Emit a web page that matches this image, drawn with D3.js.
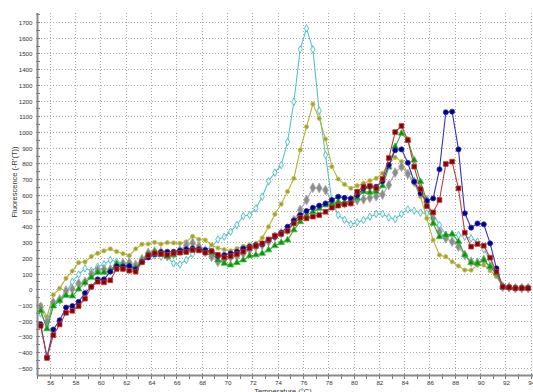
<!DOCTYPE html>
<html><head><meta charset="utf-8">
<script src="https://cdn.jsdelivr.net/npm/d3@7"></script>
<style>
html,body{margin:0;padding:0;background:#fff;}
svg{display:block;font-family:"Liberation Sans",Arial,sans-serif;}
</style></head>
<body>
<svg id="chart" width="533" height="392"></svg>
<script>
const temps = [55.25,55.75,56.25,56.75,57.25,57.75,58.25,58.75,59.25,59.75,60.25,60.75,61.25,61.75,62.25,62.75,63.25,63.75,64.25,64.75,
65.25,65.75,66.25,66.75,67.25,67.75,68.25,68.75,69.25,69.75,70.25,70.75,71.25,71.75,72.25,72.75,73.25,73.75,74.25,74.75,
75.25,75.75,76.25,76.75,77.25,77.75,78.25,78.75,79.25,79.75,80.25,80.75,81.25,81.75,82.25,82.75,83.25,83.75,84.25,84.75,
85.25,85.75,86.25,86.75,87.25,87.75,88.25,88.75,89.25,89.75,90.25,90.75,91.25,91.75,92.25,92.75,93.25,93.75];

const cyanSeries = [-150,-230,-77,-66,-20,51,97,136,121,147,162,189,179,166,162,151,189,226,217,210,
206,168,161,189,227,263,257,270,320,337,369,412,469,475,518,592,690,745,793,940,
1196,1529,1663,1529,1139,857,565,475,445,416,429,443,465,482,482,460,450,482,511,503,
490,486,480,412,350,350,348,337,327,306,257,189,104,19,15,10,10,10];

const oliveSeries = [-98,-172,-32,9,72,119,172,177,211,232,247,260,243,230,217,260,289,291,302,290,
300,298,295,305,340,320,316,285,265,255,248,262,276,285,295,330,400,480,545,625,
708,889,1037,1181,1090,959,783,704,670,645,662,677,694,709,740,800,842,815,740,677,
592,454,316,221,210,178,151,125,125,157,157,121,83,19,15,10,10,10];

const graySeries = [-110,-204,-83,-62,-6,4,40,51,100,126,130,130,153,168,172,157,194,235,243,240,
215,228,250,285,298,275,240,210,178,189,206,214,231,253,274,284,306,337,359,380,
443,507,571,649,647,634,560,555,550,560,570,575,585,595,605,666,745,783,736,687,
639,571,454,369,327,306,274,221,178,172,189,146,100,19,15,10,10,10];

const greenSeries = [-134,-249,-104,-70,-36,-40,4,45,79,111,111,121,166,157,155,140,183,226,240,225,
212,221,235,250,263,258,248,235,189,168,157,172,189,215,221,231,253,280,300,316,
380,433,475,496,518,539,549,556,554,571,585,624,620,624,660,780,910,995,952,825,
687,566,422,337,348,354,306,221,172,168,189,146,104,19,15,10,10,10];

const blueSeries = [-220,-428,-253,-194,-113,-104,-77,-21,19,66,66,115,149,147,151,130,177,205,225,240,
242,242,250,258,263,258,253,245,214,221,231,242,263,274,284,290,316,337,363,401,
440,475,501,522,535,549,571,592,585,581,602,645,655,655,690,793,887,893,808,687,
613,566,581,766,1129,1133,893,486,395,422,416,295,136,19,15,10,10,10];

const redSeries = [-230,-434,-289,-221,-147,-134,-104,-57,19,51,47,60,132,132,121,115,175,220,232,228,
222,232,236,240,253,250,236,245,222,206,214,227,242,265,278,295,320,344,355,375,
422,458,454,465,475,496,522,535,543,549,624,655,660,645,705,838,1003,1042,952,783,
639,532,492,571,800,815,645,363,274,291,280,204,115,19,15,10,10,10];

const xTickValues = [56,58,60,62,64,66,68,70,72,74,76,78,80,82,84,86,88,90,92,94];
const yTickValues = [-500,-400,-300,-200,-100,0,100,200,300,400,500,600,700,800,900,1000,1100,1200,1300,1400,1500,1600,1700];
const xTitle = "Temperature (°C)";
const yTitle = "Fluorescence (-R'(T))";

const series = [
  {name:"cyan", values:cyanSeries, line:"#55c3c8", fill:"#e6fafa", stroke:"#3fb3bb", sym:d3.symbolDiamond, size:16},
  {name:"olive", values:oliveSeries, line:"#b3b340", fill:"#a3a325", stroke:"#c2c25a", sym:d3.symbolCircle, size:14},
  {name:"gray", values:graySeries, line:"#a4a4a4", fill:"#8c8c8c", stroke:"#a8a8a8", sym:d3.symbolDiamond, size:28},
  {name:"green", values:greenSeries, line:"#2fa82f", fill:"#049804", stroke:"#3cb83c", sym:d3.symbolTriangle, size:18},
  {name:"blue", values:blueSeries, line:"#3535b5", fill:"#00008f", stroke:"#2a2aa8", sym:d3.symbolCircle, size:20},
  {name:"red", values:redSeries, line:"#b84040", fill:"#8e0000", stroke:"#b53a3a", sym:d3.symbolSquare, size:22}
];

const svg = d3.select("#chart");
const x = d3.scaleLinear().domain([55, 94.5]).range([37.5, 537.6]);
const y = d3.scaleLinear().domain([-545, 1760]).range([375.4, 13.1]);

const plotL = 37.5, plotR = 533, plotT = 13.1, plotB = 375.4;

// grid
const grid = svg.append("g");
grid.selectAll("line.gy").data(yTickValues).join("line")
  .attr("x1", plotL).attr("x2", plotR)
  .attr("y1", d => y(d)).attr("y2", d => y(d))
  .attr("stroke", "#a8a8a8").attr("stroke-width", 1).attr("stroke-dasharray", "1,2")
  .attr("shape-rendering", "crispEdges");
grid.selectAll("line.gx").data(xTickValues).join("line")
  .attr("x1", d => x(d)).attr("x2", d => x(d))
  .attr("y1", plotT).attr("y2", plotB)
  .attr("stroke", "#a8a8a8").attr("stroke-width", 1).attr("stroke-dasharray", "1,2")
  .attr("shape-rendering", "crispEdges");

// series
const lineGen = d3.line().x((d,i) => x(temps[i])).y(d => y(d));
const plot = svg.append("g");
series.forEach(s => {
  const g = plot.append("g");
  g.append("path").datum(s.values)
    .attr("d", lineGen).attr("fill", "none")
    .attr("stroke", s.line).attr("stroke-width", 1.1);
  g.selectAll("path.m").data(s.values).join("path")
    .attr("class", "m")
    .attr("transform", (d,i) => `translate(${x(temps[i])},${y(d)})`)
    .attr("d", d3.symbol().type(s.sym).size(s.size))
    .attr("fill", s.fill).attr("stroke", s.stroke).attr("stroke-width", 0.8);
});

// y axis
const yAxis = d3.axisLeft(y).tickValues(yTickValues).tickSize(0).tickPadding(4)
  .tickFormat(d3.format("d"));
const yMinor = d3.range(-500, 1751, 50);
const ya = svg.append("g");
ya.selectAll("line.minor").data(yMinor).join("line")
  .attr("x1", plotL - 2).attr("x2", plotL + 2.5)
  .attr("y1", d => y(d)).attr("y2", d => y(d))
  .attr("stroke", "#777").attr("stroke-width", 1).attr("shape-rendering", "crispEdges");
const yag = ya.append("g").attr("transform", `translate(${plotL - 1},0)`).call(yAxis);
yag.select(".domain").remove();
yag.selectAll("text").attr("font-size", 6.2).attr("fill", "#333")
  .attr("font-family", "'Liberation Sans', Arial, sans-serif");
ya.append("line").attr("x1", plotL).attr("x2", plotL).attr("y1", plotT).attr("y2", plotB)
  .attr("stroke", "#8a8a8a").attr("stroke-width", 2);

// x axis
const xMinor = d3.range(55, 95, 1);
const xa = svg.append("g");
xa.selectAll("line.minor").data(xMinor).join("line")
  .attr("x1", d => x(d)).attr("x2", d => x(d))
  .attr("y1", plotB - 1).attr("y2", plotB + 3.5)
  .attr("stroke", "#777").attr("stroke-width", 1).attr("shape-rendering", "crispEdges");
const xAxis = d3.axisBottom(x).tickValues(xTickValues).tickSize(0).tickPadding(5)
  .tickFormat(d3.format("d"));
const xag = xa.append("g").attr("transform", `translate(0,${plotB})`).call(xAxis);
xag.select(".domain").remove();
xag.selectAll("text").attr("font-size", 6.2).attr("fill", "#333")
  .attr("font-family", "'Liberation Sans', Arial, sans-serif");
xa.append("line").attr("x1", plotL).attr("x2", plotR).attr("y1", plotB).attr("y2", plotB)
  .attr("stroke", "#8a8a8a").attr("stroke-width", 2);

// titles
svg.append("text").attr("x", 283).attr("y", 394).attr("text-anchor", "middle")
  .attr("font-size", 7.5).attr("fill", "#333").text(xTitle);
svg.append("text").attr("transform", "translate(17,182) rotate(-90)")
  .attr("text-anchor", "middle").attr("font-size", 7.5).attr("fill", "#333").text(yTitle);
</script>
</body></html>
